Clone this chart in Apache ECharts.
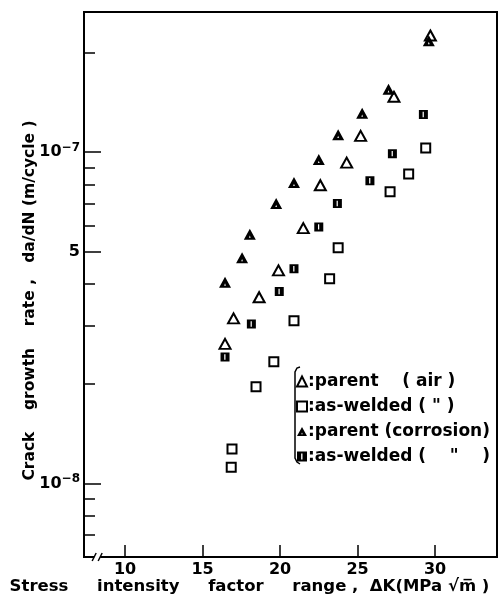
<!DOCTYPE html>
<html><head><meta charset="utf-8">
<script src="https://cdn.jsdelivr.net/npm/echarts@6/dist/echarts.min.js"></script>
<style>html,body{margin:0;padding:0;background:#fff}#c{width:501px;height:610px}</style>
</head><body><div id="c"></div>
<script>
// ---- data (ΔK in MPa√m, da/dN in m/cycle) ----
const parentAirK    = [29.7, 27.35, 25.2, 24.3, 22.6, 21.5, 19.9, 18.65, 17.0, 16.45];
const parentAirRate = [2.25e-7, 1.47e-7, 1.12e-7, 9.3e-8, 7.95e-8, 5.9e-8, 4.4e-8, 3.65e-8, 3.15e-8, 2.64e-8];

const weldAirK    = [29.4, 28.3, 27.1, 23.75, 23.2, 20.9, 19.6, 18.45, 16.9, 16.85];
const weldAirRate = [1.03e-7, 8.6e-8, 7.6e-8, 5.15e-8, 4.15e-8, 3.1e-8, 2.33e-8, 1.96e-8, 1.27e-8, 1.12e-8];

const parentCorK    = [29.6, 27.0, 25.3, 23.75, 22.5, 20.9, 19.75, 18.05, 17.55, 16.45];
const parentCorRate = [2.17e-7, 1.55e-7, 1.31e-7, 1.13e-7, 9.5e-8, 8.1e-8, 7.0e-8, 5.65e-8, 4.8e-8, 4.05e-8];

const weldCorK    = [29.25, 27.25, 25.8, 23.7, 22.5, 20.9, 19.95, 18.15, 16.45];
const weldCorRate = [1.3e-7, 9.9e-8, 8.2e-8, 7.0e-8, 5.95e-8, 4.45e-8, 3.8e-8, 3.03e-8, 2.41e-8];

const legendNames = ['parent    ( air )', 'as-welded ( " )', 'parent (corrosion)', 'as-welded (    "    )'];

const xTicks = [10, 15, 20, 25, 30];
const yMajorTicks = [1e-7, 5e-8, 1e-8];
const yMajorLabels = ['{b|10}{s|−7}', '{b|5}', '{b|10}{s|−8}'];
const yMinorTicks = [2e-7, 9e-8, 8e-8, 7e-8, 6e-8, 4e-8, 3e-8, 2e-8, 9e-9, 8e-9, 7e-9];

const xMin = 7.35, xMax = 34.0, yMin = 6.0e-9, yMax = 2.65e-7;

function zip(a, b) { return a.map((v, i) => [v, b[i]]); }

const FONT = 'DejaVu Sans';
const chart = echarts.init(document.getElementById('c'), null, { renderer: 'canvas' });

const triFilled = 'path://M5,0 L10,9 L0,9 Z M5,5.4 L4.3,7.3 L5.7,7.3 Z';
const sqFilled  = 'path://M0,0 L8,0 L8,8 L0,8 Z M3.3,1.6 L3.3,6.4 L4.4,6.4 L4.4,1.6 Z';

const option = {
  backgroundColor: '#fff',
  animation: false,
  grid: { left: 84, right: 4, top: 12, bottom: 53, show: true, borderColor: '#000', borderWidth: 2, backgroundColor: 'transparent' },
  xAxis: {
    type: 'value', min: xMin, max: xMax,
    axisLine: { show: true, lineStyle: { color: '#000', width: 2 } },
    axisTick: { show: true, inside: true, length: 12, customValues: xTicks, lineStyle: { color: '#000', width: 1.5 } },
    axisLabel: { customValues: xTicks, margin: 5, color: '#000', fontFamily: FONT, fontSize: 16, fontWeight: 'bold' },
    splitLine: { show: false },
    name: 'Stress     intensity     factor     range ,  ΔK(MPa √m̅ )',
    nameLocation: 'middle', nameGap: 21, nameMoveOverlap: false,
    nameTextStyle: { color: '#000', fontFamily: FONT, fontSize: 16.5, fontWeight: 'bold', padding: [0, 82, 0, 0] }
  },
  yAxis: [{
    type: 'log', logBase: 10, min: yMin, max: yMax,
    axisLine: { show: true, lineStyle: { color: '#000', width: 2 } },
    axisTick: { show: true, inside: true, length: 17, customValues: yMajorTicks, lineStyle: { color: '#000', width: 1.5 } },
    axisLabel: {
      customValues: yMajorTicks, margin: 4, color: '#000', fontFamily: FONT,
      formatter: function (v) { const i = yMajorTicks.findIndex(t => Math.abs(t - v) / t < 1e-6); return i >= 0 ? yMajorLabels[i] : ''; },
      rich: { b: { fontSize: 16, fontWeight: 'bold', fontFamily: FONT, color: '#000' }, s: { fontSize: 12, fontWeight: 'bold', fontFamily: FONT, color: '#000', padding: [0, 0, 9, 0] } }
    },
    splitLine: { show: false },
    name: 'Crack    growth    rate ,   da/dN (m/cycle )',
    nameLocation: 'middle', nameGap: 46, nameRotate: 90, nameMoveOverlap: false,
    nameTextStyle: { color: '#000', fontFamily: FONT, fontSize: 15.5, fontWeight: 'bold', padding: [0, 32, 0, 0] }
  }, {
    type: 'log', logBase: 10, min: yMin, max: yMax, position: 'left',
    axisLine: { show: false },
    axisTick: { show: true, inside: true, length: 11, customValues: yMinorTicks, lineStyle: { color: '#000', width: 1.5 } },
    axisLabel: { show: false },
    splitLine: { show: false }
  }],
  legend: {
    orient: 'vertical', left: 296, top: 373, padding: 0, itemWidth: 10, itemHeight: 10, itemGap: 8,
    formatter: n => ':' + n,
    textStyle: { color: '#000', fontFamily: FONT, fontSize: 17, fontWeight: 'bold', lineHeight: 16, padding: [0, 0, 0, -4] },
    data: legendNames
  },
  series: [
    { name: legendNames[0], type: 'scatter', data: zip(parentAirK, parentAirRate), symbol: 'triangle', symbolSize: [11, 10],
      itemStyle: { color: '#fff', borderColor: '#000', borderWidth: 2, opacity: 1 } },
    { name: legendNames[1], type: 'scatter', data: zip(weldAirK, weldAirRate), symbol: 'rect', symbolSize: 9,
      itemStyle: { color: '#fff', borderColor: '#000', borderWidth: 2, opacity: 1 } },
    { name: legendNames[2], type: 'scatter', data: zip(parentCorK, parentCorRate), symbol: triFilled, symbolSize: [12, 11],
      itemStyle: { color: '#000', opacity: 1 } },
    { name: legendNames[3], type: 'scatter', data: zip(weldCorK, weldCorRate), symbol: sqFilled, symbolSize: 9,
      itemStyle: { color: '#000', opacity: 1 } }
  ]
};
chart.setOption(option);

// decorations: axis break marks and the legend bracket
const p = chart.convertToPixel({ gridIndex: 0 }, [8.2, yMin]);
const bx = p[0], by = p[1];
chart.setOption({
  graphic: [
    { type: 'rect', shape: { x: bx - 3, y: by - 3, width: 6, height: 6 }, style: { fill: '#fff' }, z: 100 },
    { type: 'line', shape: { x1: bx - 5, y1: by + 4, x2: bx - 1, y2: by - 4 }, style: { stroke: '#000', lineWidth: 1.5 }, z: 101 },
    { type: 'line', shape: { x1: bx + 1, y1: by + 4, x2: bx + 5, y2: by - 4 }, style: { stroke: '#000', lineWidth: 1.5 }, z: 101 },
    { type: 'polyline', shape: { points: [[300, 367], [297, 368], [295, 372], [295, 458], [297, 462], [300, 464]] }, style: { fill: null, stroke: '#000', lineWidth: 1.5 }, z: 101 }
  ]
});
</script>
</body></html>
